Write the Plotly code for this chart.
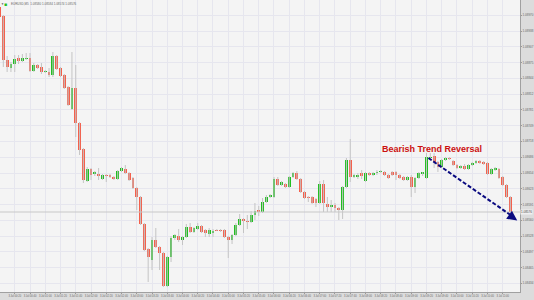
import plotly.graph_objects as go

opens = [1.08986, 1.08968, 1.08880, 1.08864, 1.08872, 1.08884, 1.08878, 1.08883, 1.08884, 1.08858,
         1.08870, 1.08866, 1.08856, 1.08856, 1.08850, 1.08888, 1.08864, 1.08850, 1.08826, 1.08782,
         1.08824, 1.08754, 1.08702, 1.08638, 1.08662, 1.08652, 1.08652, 1.08642, 1.08650, 1.08650,
         1.08646, 1.08642, 1.08658, 1.08662, 1.08654, 1.08644, 1.08624, 1.08606, 1.08552, 1.08502,
         1.08480, 1.08520, 1.08506, 1.08494, 1.08428, 1.08486, 1.08524, 1.08528, 1.08520, 1.08526,
         1.08546, 1.08536, 1.08542, 1.08548, 1.08540, 1.08532, 1.08534, 1.08540, 1.08540, 1.08540,
         1.08526, 1.08520, 1.08530, 1.08550, 1.08562, 1.08558, 1.08556, 1.08570, 1.08580, 1.08576,
         1.08596, 1.08606, 1.08606, 1.08642, 1.08630, 1.08632, 1.08626, 1.08646, 1.08654, 1.08642,
         1.08616, 1.08606, 1.08606, 1.08602, 1.08594, 1.08632, 1.08592, 1.08586, 1.08590, 1.08584,
         1.08580, 1.08626, 1.08680, 1.08646, 1.08646, 1.08654, 1.08638, 1.08654, 1.08650, 1.08654,
         1.08656, 1.08656, 1.08650, 1.08656, 1.08656, 1.08650, 1.08646, 1.08640, 1.08646, 1.08626,
         1.08644, 1.08652, 1.08644, 1.08684, 1.08688, 1.08676, 1.08666, 1.08680, 1.08684, 1.08678,
         1.08670, 1.08664, 1.08668, 1.08662, 1.08670, 1.08674, 1.08677, 1.08676, 1.08674, 1.08652,
         1.08660, 1.08662, 1.08646, 1.08630, 1.08606]
highs = [1.08990, 1.08970, 1.08888, 1.08876, 1.08890, 1.08890, 1.08892, 1.08894, 1.08894, 1.08874,
         1.08872, 1.08874, 1.08860, 1.08864, 1.08896, 1.08890, 1.08866, 1.08852, 1.08828, 1.08896,
         1.08870, 1.08756, 1.08704, 1.08666, 1.08664, 1.08658, 1.08664, 1.08652, 1.08652, 1.08652,
         1.08648, 1.08660, 1.08666, 1.08670, 1.08656, 1.08646, 1.08626, 1.08608, 1.08554, 1.08504,
         1.08526, 1.08544, 1.08508, 1.08496, 1.08488, 1.08528, 1.08532, 1.08542, 1.08528, 1.08552,
         1.08554, 1.08546, 1.08554, 1.08550, 1.08542, 1.08544, 1.08542, 1.08542, 1.08542, 1.08542,
         1.08528, 1.08532, 1.08554, 1.08572, 1.08564, 1.08570, 1.08578, 1.08594, 1.08588, 1.08604,
         1.08610, 1.08612, 1.08646, 1.08646, 1.08638, 1.08634, 1.08648, 1.08656, 1.08658, 1.08644,
         1.08618, 1.08608, 1.08608, 1.08604, 1.08638, 1.08640, 1.08606, 1.08600, 1.08594, 1.08586,
         1.08628, 1.08684, 1.08722, 1.08652, 1.08654, 1.08660, 1.08656, 1.08656, 1.08656, 1.08660,
         1.08660, 1.08658, 1.08652, 1.08658, 1.08658, 1.08652, 1.08648, 1.08648, 1.08650, 1.08646,
         1.08656, 1.08656, 1.08694, 1.08694, 1.08694, 1.08678, 1.08682, 1.08686, 1.08686, 1.08680,
         1.08672, 1.08670, 1.08672, 1.08672, 1.08676, 1.08680, 1.08680, 1.08678, 1.08676, 1.08664,
         1.08666, 1.08664, 1.08648, 1.08632, 1.08608]
lows = [1.08964, 1.08866, 1.08856, 1.08856, 1.08856, 1.08872, 1.08876, 1.08880, 1.08856, 1.08856,
        1.08862, 1.08852, 1.08854, 1.08846, 1.08846, 1.08860, 1.08846, 1.08822, 1.08788, 1.08780,
        1.08726, 1.08690, 1.08634, 1.08636, 1.08640, 1.08648, 1.08640, 1.08640, 1.08636, 1.08644,
        1.08640, 1.08640, 1.08656, 1.08652, 1.08638, 1.08622, 1.08580, 1.08550, 1.08498, 1.08436,
        1.08460, 1.08504, 1.08460, 1.08426, 1.08426, 1.08476, 1.08520, 1.08516, 1.08510, 1.08524,
        1.08534, 1.08534, 1.08540, 1.08534, 1.08526, 1.08526, 1.08526, 1.08538, 1.08536, 1.08524,
        1.08484, 1.08512, 1.08528, 1.08548, 1.08534, 1.08542, 1.08554, 1.08560, 1.08568, 1.08574,
        1.08594, 1.08604, 1.08604, 1.08628, 1.08628, 1.08624, 1.08624, 1.08644, 1.08640, 1.08614,
        1.08602, 1.08596, 1.08592, 1.08586, 1.08592, 1.08576, 1.08576, 1.08576, 1.08576, 1.08560,
        1.08562, 1.08624, 1.08636, 1.08644, 1.08642, 1.08642, 1.08636, 1.08648, 1.08648, 1.08650,
        1.08654, 1.08648, 1.08642, 1.08648, 1.08640, 1.08642, 1.08638, 1.08638, 1.08606, 1.08614,
        1.08642, 1.08648, 1.08642, 1.08680, 1.08664, 1.08656, 1.08664, 1.08678, 1.08680, 1.08668,
        1.08662, 1.08662, 1.08660, 1.08660, 1.08668, 1.08672, 1.08672, 1.08670, 1.08650, 1.08650,
        1.08658, 1.08642, 1.08628, 1.08604, 1.08574]
closes = [1.08966, 1.08880, 1.08866, 1.08872, 1.08882, 1.08878, 1.08884, 1.08884, 1.08858, 1.08870,
          1.08864, 1.08856, 1.08858, 1.08850, 1.08888, 1.08862, 1.08848, 1.08824, 1.08790, 1.08824,
          1.08754, 1.08700, 1.08640, 1.08662, 1.08650, 1.08656, 1.08648, 1.08650, 1.08649, 1.08646,
          1.08642, 1.08658, 1.08664, 1.08654, 1.08640, 1.08624, 1.08606, 1.08552, 1.08500, 1.08486,
          1.08520, 1.08506, 1.08494, 1.08428, 1.08486, 1.08524, 1.08530, 1.08520, 1.08526, 1.08546,
          1.08536, 1.08544, 1.08548, 1.08536, 1.08534, 1.08540, 1.08538, 1.08539, 1.08538, 1.08526,
          1.08520, 1.08530, 1.08550, 1.08562, 1.08558, 1.08556, 1.08570, 1.08578, 1.08576, 1.08596,
          1.08606, 1.08610, 1.08642, 1.08630, 1.08636, 1.08626, 1.08646, 1.08654, 1.08642, 1.08616,
          1.08604, 1.08604, 1.08594, 1.08594, 1.08632, 1.08594, 1.08586, 1.08590, 1.08584, 1.08580,
          1.08626, 1.08680, 1.08646, 1.08650, 1.08650, 1.08648, 1.08654, 1.08650, 1.08654, 1.08656,
          1.08658, 1.08650, 1.08644, 1.08650, 1.08650, 1.08644, 1.08640, 1.08646, 1.08626, 1.08644,
          1.08654, 1.08656, 1.08686, 1.08686, 1.08676, 1.08666, 1.08680, 1.08684, 1.08682, 1.08670,
          1.08664, 1.08668, 1.08663, 1.08670, 1.08674, 1.08678, 1.08674, 1.08672, 1.08652, 1.08662,
          1.08664, 1.08644, 1.08630, 1.08606, 1.08576]

price_ticks = [1.08970, 1.08938, 1.08907, 1.08875, 1.08844, 1.08812, 1.08781, 1.08749, 1.08718,
               1.08686, 1.08654, 1.08623, 1.08591, 1.08560, 1.08528, 1.08497, 1.08465, 1.08434]
price_labels = ["%.5f" % v for v in price_ticks]

time_ticks = list(range(0, 135, 4))
time_labels = ["3 Jul 2015", "3 Jul 00:20", "3 Jul 00:40", "3 Jul 01:00", "3 Jul 01:20", "3 Jul 01:40",
               "3 Jul 02:00", "3 Jul 02:20", "3 Jul 02:40", "3 Jul 03:00", "3 Jul 03:20", "3 Jul 03:40",
               "3 Jul 04:00", "3 Jul 04:20", "3 Jul 04:40", "3 Jul 05:00", "3 Jul 05:20", "3 Jul 05:40",
               "3 Jul 06:00", "3 Jul 06:20", "3 Jul 06:40", "3 Jul 07:00", "3 Jul 07:20", "3 Jul 07:40",
               "3 Jul 08:00", "3 Jul 08:20", "3 Jul 08:40", "3 Jul 09:00", "3 Jul 09:20", "3 Jul 09:40",
               "3 Jul 10:00", "3 Jul 10:20", "3 Jul 10:40", "3 Jul 11:00"]

symbol_text = "EURUSD,M5  1.08580 1.08584 1.08574 1.08576"
annotation_text = "Bearish Trend Reversal"
arrow_start = (112.5, 1.08684)
arrow_end = (135.8, 1.08559)

RED = "#f4604c"
GREEN = "#22bf22"
WICK = "#c4c4c4"

n = len(opens)
idx = list(range(n))

wx, wy = [], []
for i in idx:
    wx += [i, i, None]
    wy += [lows[i], highs[i], None]

base = [min(o, c) for o, c in zip(opens, closes)]
height = [max(abs(c - o), 0.000006) for o, c in zip(opens, closes)]
colors = [GREEN if c >= o else RED for o, c in zip(opens, closes)]

fig = go.Figure()
fig.add_trace(go.Scatter(x=wx, y=wy, mode="lines", line=dict(color=WICK, width=1),
                         hoverinfo="skip", showlegend=False))
fig.add_trace(go.Bar(x=idx, y=height, base=base, width=0.74, marker=dict(color=colors, line=dict(width=0)),
                     hoverinfo="skip", showlegend=False))

last = closes[-1]
fig.add_shape(type="line", xref="paper", x0=0, x1=1, yref="y", y0=last, y1=last,
              line=dict(color="#c8c8c8", width=1))

fig.add_shape(type="line", xref="x", yref="y", x0=arrow_start[0], y0=arrow_start[1],
              x1=arrow_end[0] - 1.2, y1=arrow_end[1] + 0.00008,
              line=dict(color="#0a0a80", width=2, dash="4px,2px"))
fig.add_annotation(x=arrow_end[0], y=arrow_end[1], xref="x", yref="y", text="", showarrow=True,
                   ax=-9, ay=-6.4, arrowhead=2, arrowsize=1.0, arrowwidth=2, arrowcolor="#0a0a80")

fig.add_annotation(x=113.5, y=1.08702, xref="x", yref="y", text="<b>" + annotation_text + "</b>",
                   showarrow=False, font=dict(family="Arial, Liberation Sans", size=9, color="#cc1010"))

fig.add_annotation(x=0.017, y=0.985, xref="paper", yref="paper", xanchor="left", yanchor="middle",
                   text=symbol_text, showarrow=False, font=dict(family="Arial", size=3, color="#666666"))
fig.add_annotation(x=0.011, y=0.985, xref="paper", yref="paper", xanchor="center", yanchor="middle",
                   text="■", showarrow=False, font=dict(size=5, color="#22bf22"))
fig.add_annotation(x=0.004, y=0.985, xref="paper", yref="paper", xanchor="center", yanchor="middle",
                   text="▼", showarrow=False, font=dict(size=3, color="#555555"))

fig.add_annotation(x=1.0, y=last, xref="paper", yref="y", xanchor="left", yanchor="middle",
                   text="%.5f" % last, showarrow=False, bgcolor="#f0f0f0", borderpad=0,
                   font=dict(family="Arial", size=3, color="#444444"))

fig.update_layout(
    width=534, height=300,
    margin=dict(l=0, r=12, t=0, b=8),
    paper_bgcolor="#dcdcdc",
    plot_bgcolor="#f4f4f4",
    bargap=0,
    xaxis=dict(range=[0.13, 136.53], tickmode="array", tickvals=time_ticks, ticktext=time_labels,
               tickangle=0, showgrid=True, gridcolor="#e6e6ee", gridwidth=1, zeroline=False,
               showline=True, linecolor="#a0a0a0", ticks="outside", ticklen=1, tickcolor="#999999",
               tickfont=dict(family="Arial", size=2.6, color="#666666")),
    yaxis=dict(range=[1.08416, 1.09000], side="right", tickmode="array", tickvals=price_ticks,
               ticktext=price_labels, showgrid=True, gridcolor="#e6e6ee", gridwidth=1, zeroline=False,
               showline=True, linecolor="#a0a0a0", ticks="outside", ticklen=1, tickcolor="#999999",
               tickfont=dict(family="Arial", size=3, color="#666666")),
)

fig.write_html("out.html")
